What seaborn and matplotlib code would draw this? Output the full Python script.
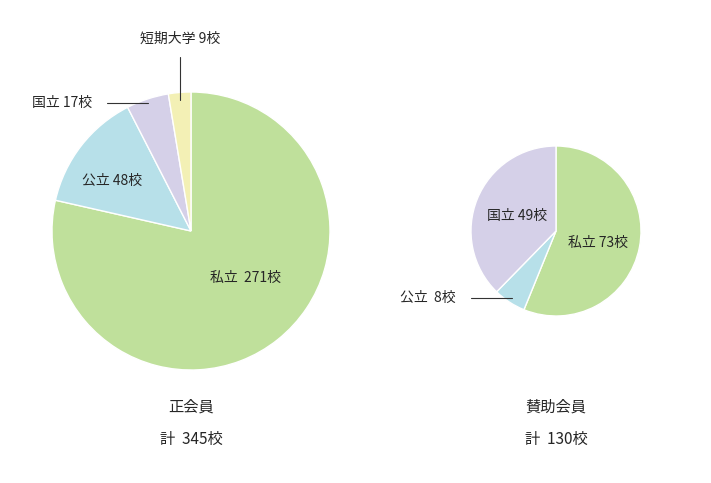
import matplotlib
matplotlib.use("Agg")
import matplotlib.pyplot as plt
import seaborn as sns

sns.set_theme(style="white")
plt.rcParams['font.family'] = ['Noto Sans CJK JP', 'DejaVu Sans']

left_labels = ["私立", "公立", "国立", "短期大学"]
left_values = [271, 48, 17, 9]
right_labels = ["私立", "公立", "国立"]
right_values = [73, 8, 49]
colors = {"私立": "#bfe09b", "公立": "#b7e0e9", "国立": "#d5d0e8", "短期大学": "#f3f0b5"}

fig = plt.figure(figsize=(7.11, 4.83), dpi=100)
ax = fig.add_axes([0, 0, 1, 1])
ax.set_xlim(0, 711)
ax.set_ylim(483, 0)
ax.set_aspect("equal")
ax.axis("off")

def draw(values, labels, center, radius):
    w, _ = ax.pie(values, colors=[colors[l] for l in labels], startangle=90,
                  counterclock=False, center=center, radius=radius, frame=True)
    # y axis inverted: flip wedges by mirroring in pie with negative? handle via transform
    return w

# Because y is inverted, clockwise on screen corresponds to counterclock=True in data.
ax.cla()
ax.set_xlim(0, 711); ax.set_ylim(483, 0); ax.set_aspect("equal"); ax.axis("off")
ax.pie(left_values, colors=[colors[l] for l in left_labels], startangle=-90,
       counterclock=True, center=(191, 231), radius=139, frame=True)
ax.pie(right_values, colors=[colors[l] for l in right_labels], startangle=-90,
       counterclock=True, center=(556, 231), radius=85, frame=True)
ax.set_xlim(0, 711); ax.set_ylim(483, 0); ax.axis("off")

fs = 10
ax.text(245, 278, f"{left_labels[0]}  {left_values[0]}校", fontsize=fs, ha="center", va="center")
ax.text(112, 181, f"{left_labels[1]} {left_values[1]}校", fontsize=fs, ha="center", va="center")
ax.text(62, 103, f"{left_labels[2]} {left_values[2]}校", fontsize=fs, ha="center", va="center")
ax.plot([107, 148], [103, 103], color="#333333", lw=0.8)
ax.text(180, 39, f"{left_labels[3]} {left_values[3]}校", fontsize=fs, ha="center", va="center")
ax.plot([180, 180], [57, 100], color="#333333", lw=0.8)

ax.text(598, 243, f"{right_labels[0]} {right_values[0]}校", fontsize=fs, ha="center", va="center")
ax.text(517, 216, f"{right_labels[2]} {right_values[2]}校", fontsize=fs, ha="center", va="center")
ax.text(428, 298, f"{right_labels[1]}  {right_values[1]}校", fontsize=fs, ha="center", va="center")
ax.plot([471, 512], [298, 298], color="#333333", lw=0.8)

ax.text(191, 407, "正会員", fontsize=11, ha="center", va="center")
ax.text(191, 439, f"計  {sum(left_values)}校", fontsize=11, ha="center", va="center")
ax.text(556, 407, "賛助会員", fontsize=11, ha="center", va="center")
ax.text(556, 439, f"計  {sum(right_values)}校", fontsize=11, ha="center", va="center")

fig.savefig("out.png", dpi=100)
